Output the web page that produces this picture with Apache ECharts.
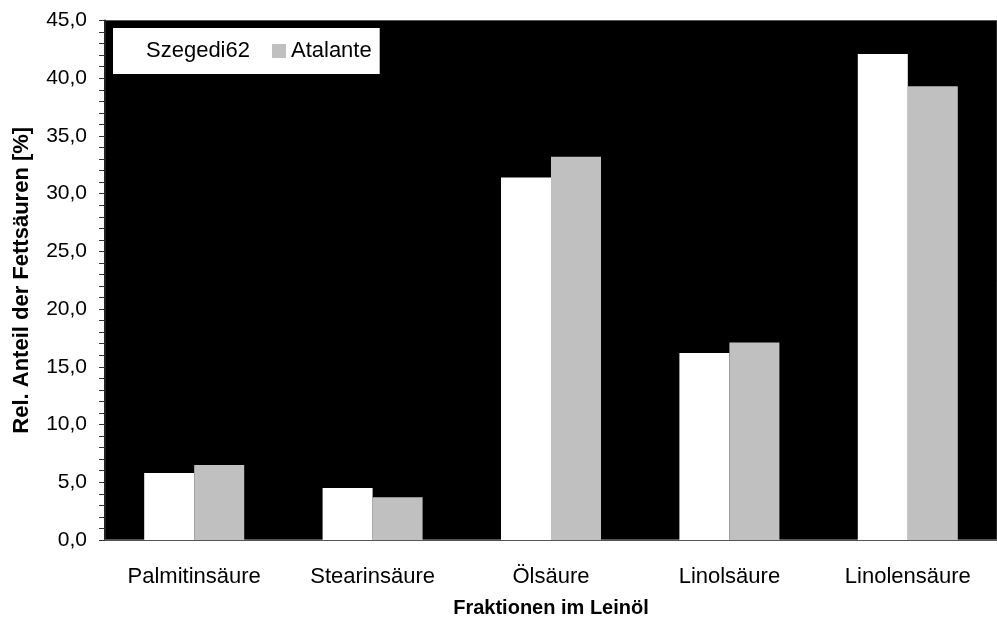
<!DOCTYPE html>
<html>
<head>
<meta charset="utf-8">
<script src="https://cdn.jsdelivr.net/npm/echarts@6/dist/echarts.min.js"></script>
<style>
html,body{margin:0;padding:0;background:#fff;}
#c{width:997px;height:622px;}
</style>
</head>
<body>
<div id="c"></div>
<script>
const categories = ['Palmitinsäure', 'Stearinsäure', 'Ölsäure', 'Linolsäure', 'Linolensäure'];
const seriesNames = ['Szegedi62', 'Atalante'];
const szegedi62 = [5.8, 4.5, 31.4, 16.2, 42.1];
const atalante = [6.5, 3.7, 33.2, 17.1, 39.3];
const yTicks = [0, 5, 10, 15, 20, 25, 30, 35, 40, 45];

const font = 'Arial, "Liberation Sans", sans-serif';
const chart = echarts.init(document.getElementById('c'), null, {renderer: 'canvas'});
chart.setOption({
  animation: false,
  backgroundColor: '#fff',
  textStyle: {fontFamily: font},
  grid: {
    left: 105, right: 0, top: 20.5, bottom: 82,
    outerBoundsMode: 'none',
    containLabel: false,
    show: true, backgroundColor: '#000', borderColor: '#555', borderWidth: 1
  },
  legend: {
    left: 113, top: 28,
    backgroundColor: '#fff',
    padding: [12, 8, 12, 14],
    itemWidth: 14, itemHeight: 14, itemGap: 22,
    textStyle: {fontSize: 22, color: '#000', fontFamily: font},
    data: seriesNames.map(n => ({name: n, icon: 'rect'}))
  },
  xAxis: {
    type: 'category',
    data: categories,
    axisLine: {lineStyle: {color: '#555', width: 2}},
    axisTick: {show: false},
    axisLabel: {fontSize: 22, color: '#000', margin: 26, fontFamily: font},
    name: 'Fraktionen im Leinöl',
    nameLocation: 'middle',
    nameGap: 58,
    nameTextStyle: {fontSize: 20, fontWeight: 'bold', color: '#000', fontFamily: font, verticalAlign: 'top'}
  },
  yAxis: {
    type: 'value',
    min: yTicks[0], max: yTicks[yTicks.length - 1], interval: 5,
    axisLine: {show: true, lineStyle: {color: '#222', width: 2}},
    axisTick: {show: true, length: 6, lineStyle: {color: '#333'}},
    minorTick: {show: true, splitNumber: 5, length: 6, lineStyle: {color: '#333'}},
    splitLine: {show: false},
    axisLabel: {fontSize: 21, color: '#000', margin: 18, fontFamily: font,
      formatter: v => v.toFixed(1).replace('.', ',')},
    name: 'Rel. Anteil der Fettsäuren [%]',
    nameLocation: 'middle',
    nameGap: 72,
    nameTextStyle: {fontSize: 22, fontWeight: 'bold', color: '#000', fontFamily: font}
  },
  series: [
    {name: seriesNames[0], type: 'bar', data: szegedi62, barWidth: 50, barGap: '0%',
      itemStyle: {color: '#ffffff'}},
    {name: seriesNames[1], type: 'bar', data: atalante, barWidth: 50, barGap: '0%',
      itemStyle: {color: '#c0c0c0'}}
  ]
});
</script>
</body>
</html>
